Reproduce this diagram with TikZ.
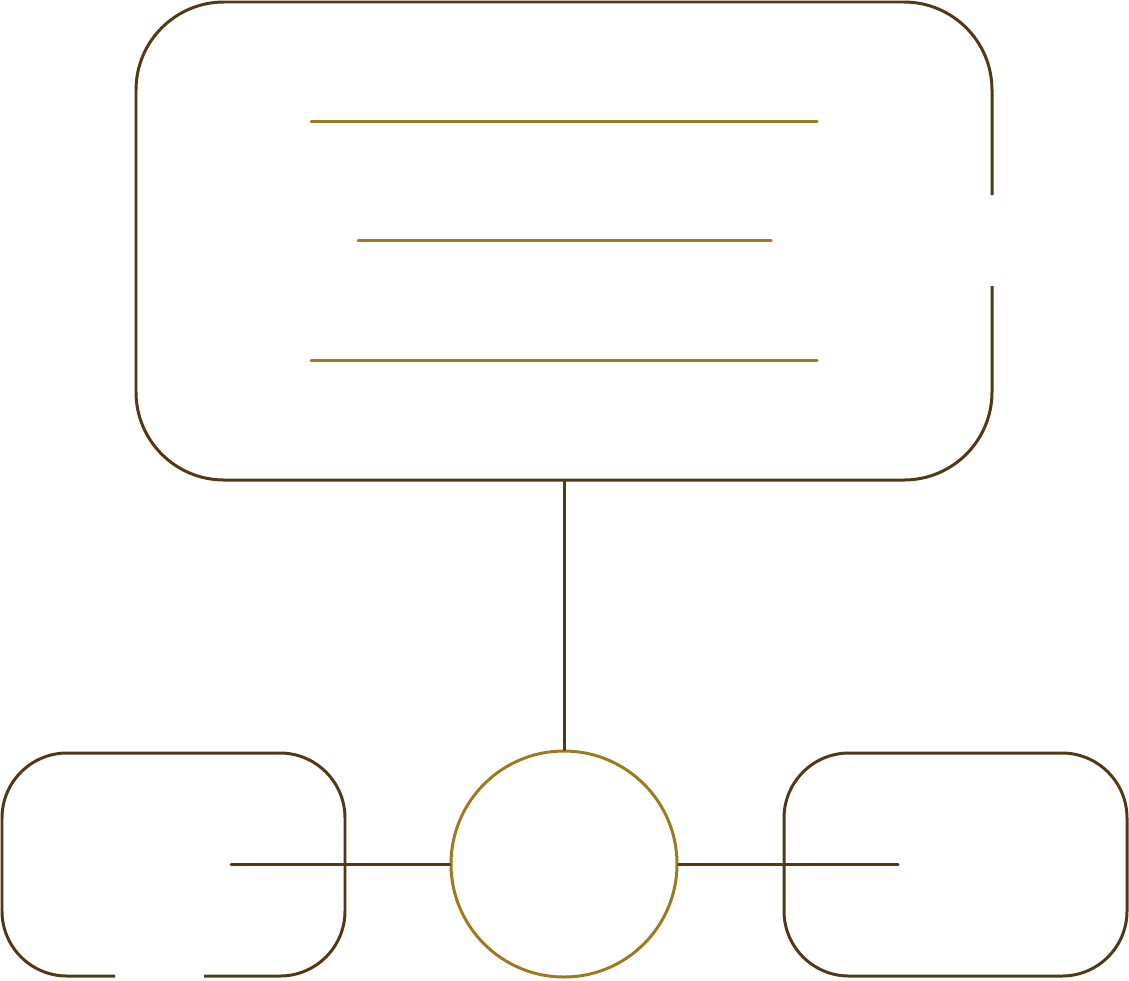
\documentclass[tikz,border=0pt]{standalone}
\usepackage{xcolor}
\usepackage{tikz}

\definecolor{framebrown}{RGB}{82,56,22}
\definecolor{linegold}{RGB}{158,122,30}

\begin{document}
\begin{tikzpicture}[
    outline/.style={draw=framebrown, line width=0.85pt},
    textline/.style={draw=linegold, line width=0.85pt, line cap=round},
    link/.style={draw=framebrown, line width=0.85pt, line cap=round}
]
\useasboundingbox (0,0) rectangle (11.29,9.80);

% Main panel (gap on the right side)
\draw[outline, rounded corners=8.8mm] (9.92,7.85) -- (9.92,9.78) -- (1.36,9.78) -- (1.36,5.00) -- (9.92,5.00) -- (9.92,6.94);
\coordinate (panel-bottom) at (5.64,5.00);

% Text lines in the panel
\draw[textline] (3.11,8.59) -- (8.17,8.59);
\draw[textline] (3.58,7.40) -- (7.71,7.40);
\draw[textline] (3.11,6.20) -- (8.17,6.20);

% Central hub
\node[circle, draw=linegold, line width=0.85pt, minimum size=2.26cm, inner sep=0pt] (hub) at (5.64,1.16) {};

% Left box (gap at the bottom)
\draw[outline, rounded corners=6.5mm] (2.04,0.04) -- (3.45,0.04) -- (3.45,2.27) -- (0.02,2.27) -- (0.02,0.04) -- (1.15,0.04);
\coordinate (left-end) at (2.31,1.16);

% Right box
\draw[outline, rounded corners=6.5mm] (7.84,0.04) rectangle (11.27,2.27);
\coordinate (right-end) at (8.98,1.16);

% Connectors
\draw[link] (panel-bottom) -- (hub.north);
\draw[link] (hub.west) -- (left-end);
\draw[link] (hub.east) -- (right-end);

\end{tikzpicture}
\end{document}
